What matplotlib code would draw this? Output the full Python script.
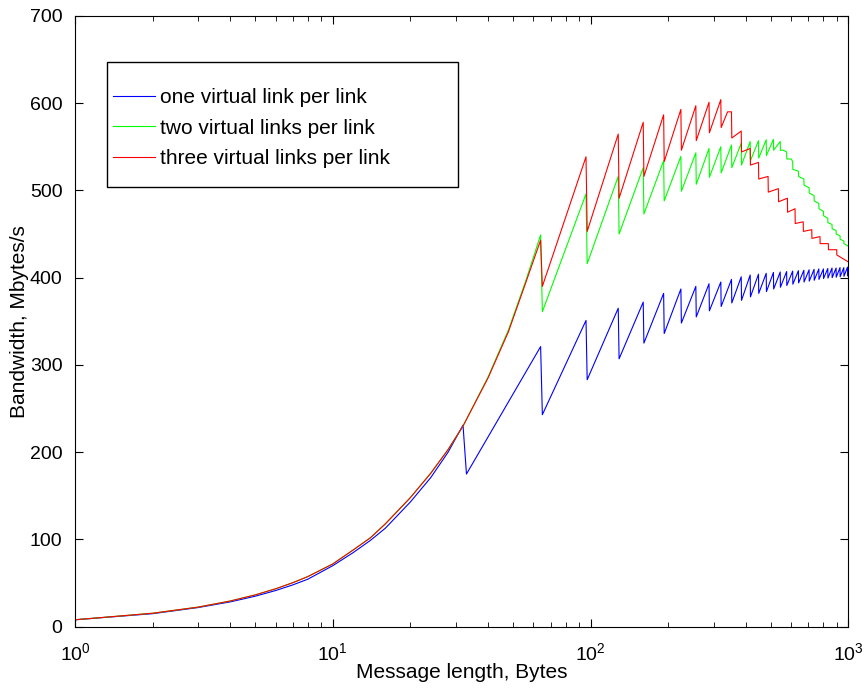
import numpy as np
import matplotlib
matplotlib.use("Agg")
import matplotlib.pyplot as plt
from matplotlib.patches import Rectangle

plt.rcParams['font.family'] = ['Liberation Sans', 'DejaVu Sans']

# smooth start of the curves (message length in bytes)
head_x = [1, 2, 3, 4, 5, 6, 7, 8, 10, 12, 14, 16, 20, 24, 28, 32]
blue_head = [8, 15, 22, 28.5, 35, 41.5, 48, 54.5, 70, 85, 99, 113, 143, 171, 200, 231]
green_head = [8, 15.5, 22.5, 29.5, 36.5, 43.5, 50.5, 57.5, 72, 88, 102, 118, 148, 176, 203, 230]
red_head = [8, 15.5, 22.5, 29.5, 36.5, 43.5, 50.5, 57.5, 72, 88, 102, 118, 148, 176, 203, 230]

# red/green keep rising after 32 bytes
mid_x = [40, 48, 56]
green_mid = [286, 340, 396]
red_mid = [285, 338, 394]

# one virtual link: drops every 32 bytes
blue_drop_x = [32, 64, 96, 128, 160, 192, 224, 256, 288, 320, 352, 384, 416, 448, 480,
               512, 544, 576, 608, 640, 672, 704, 736, 768, 800, 832, 864, 896, 928, 960, 992]
blue_peak = [231, 321, 351, 365, 372, 382, 387, 390, 393, 395, 398, 401, 403, 404, 405,
             406, 406.5, 407, 407.5, 408, 408.5, 409, 409.5, 410, 410, 410.5, 411, 411, 411.5, 411.5, 412]
blue_low = [175, 243, 283, 307, 325, 336, 348, 355, 362, 367, 371, 374, 378, 382, 384,
            387, 389, 391, 392.5, 394, 395, 396, 397, 398, 399, 399.5, 400, 400.5, 401, 401.5, 402]
blue_last = 404

# two virtual links
green_drop_x = [64, 96, 128, 160, 192, 224, 256, 288, 320, 352, 384, 416, 448, 480, 512]
green_peak = [449, 496, 516, 526, 534, 539, 543, 548, 550, 552, 554, 556, 557, 558, 558.5]
green_low = [361, 416, 450, 473, 488, 499, 507, 515, 520, 526, 529, 534, 537, 540, 546]
green_tail_x = [544, 545, 560, 576, 577, 600, 608, 609, 640, 641, 672, 673, 704, 705,
                736, 737, 768, 769, 800, 801, 832, 833, 864, 865, 896, 897, 928, 929, 960, 961, 1000]
green_tail = [556, 546, 546, 544, 536, 536, 533, 524, 522, 516, 513, 506, 503, 497,
              494, 488, 485, 479, 476, 471, 468, 463, 461, 456, 454, 450, 448, 444, 442, 439, 436]

# three virtual links
red_drop_x = [64, 96, 128, 160, 192, 224, 256, 288, 320]
red_peak = [443, 538.5, 564.5, 578, 586.6, 592.8, 597, 601, 604]
red_low = [390, 453, 491, 516, 533, 546, 557, 566, 572]
red_tail_x = [340, 352, 353, 384, 385, 416, 417, 448, 449, 488, 489, 535, 536, 580,
              581, 621, 622, 668, 669, 721, 722, 776, 777, 836, 837, 901, 902, 1000]
red_tail = [590, 590, 560, 568, 544, 548, 529, 532, 513, 516, 498, 502, 487, 491,
            475, 479, 462, 464, 453, 455, 445, 447, 439, 439, 432, 432, 426, 418]


def build(x0, y0, drops, peaks, lows, tail_x, tail_y):
    xs = list(x0)
    ys = list(y0)
    for d, p, l in zip(drops, peaks, lows):
        xs += [d, d + 1]
        ys += [p, l]
    return xs + list(tail_x), ys + list(tail_y)


bx, by = build(head_x, blue_head, blue_drop_x, blue_peak, blue_low, [1000], [blue_last])
gx, gy = build(head_x + mid_x, green_head + green_mid, green_drop_x, green_peak, green_low,
               green_tail_x, green_tail)
rx, ry = build(head_x + mid_x, red_head + red_mid, red_drop_x, red_peak, red_low,
               red_tail_x, red_tail)

fig = plt.figure(figsize=(8.68, 6.88), dpi=100)
ax = fig.add_axes([0.0864, 0.089, 0.891, 0.888])

ax.plot(bx, by, color='#0000ff', linewidth=0.8, label='one virtual link per link')
ax.plot(gx, gy, color='#00ff00', linewidth=0.8, label='two virtual links per link')
ax.plot(rx, ry, color='#ff0000', linewidth=0.8, label='three virtual links per link')

ax.set_xscale('log')
ax.set_xlim(1, 1000)
ax.set_ylim(0, 700)
ax.set_yticks([0, 100, 200, 300, 400, 500, 600, 700])
ax.tick_params(which='both', direction='in', top=True, right=True, labelsize=14)
ax.tick_params(which='major', length=6)
ax.tick_params(which='minor', length=3.5)
ax.tick_params(axis='x', which='major', pad=11)
ax.tick_params(axis='y', which='major', pad=9)
ax.set_xlabel('Message length, Bytes', fontsize=15)
ax.set_ylabel('Bandwidth, Mbytes/s', fontsize=15)
ax.xaxis.set_label_coords(0.5, -0.06)
ax.yaxis.set_label_coords(-0.06, 0.5)

# legend box drawn as its own frame, entries placed inside it
ax.add_patch(Rectangle((0.0414, 0.7197), 0.454, 0.204, transform=ax.transAxes,
                       facecolor='white', edgecolor='black', linewidth=1.0, zorder=4))
leg = ax.legend(loc='upper left', bbox_to_anchor=(0.0491, 0.8815), frameon=False,
                borderaxespad=0, borderpad=0, fontsize=15, handlelength=2.0,
                handletextpad=0.25, labelspacing=0.55)
leg.set_zorder(5)

fig.savefig('out.png', dpi=100)
